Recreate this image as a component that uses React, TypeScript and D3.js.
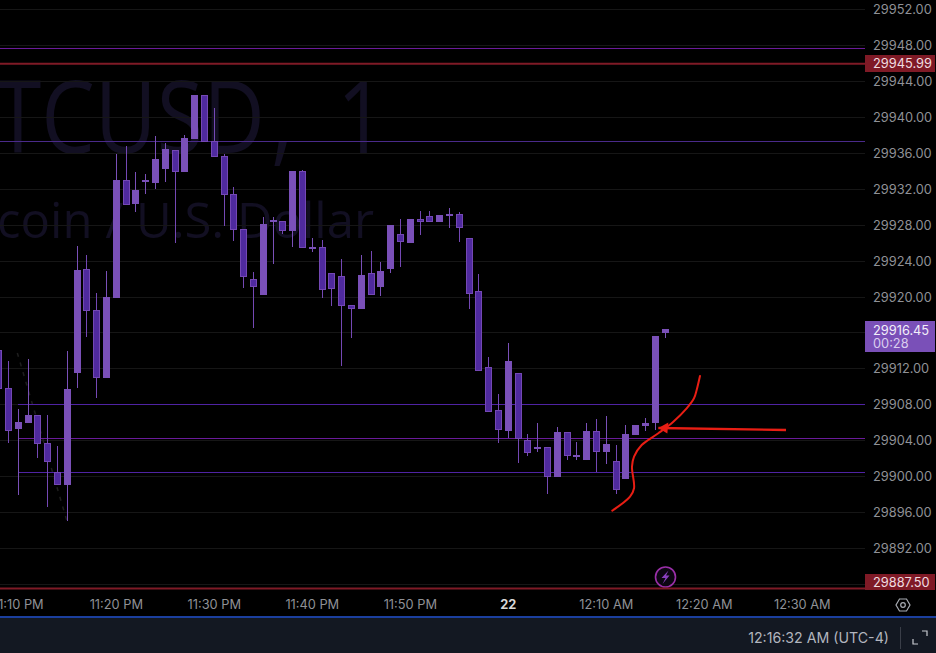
import React from "react";
import * as d3 from "d3";

const WIDTH = 936;
const HEIGHT = 653;

// minutes relative to 12:00 AM
const firstMinute = -52;
const opens = [29914.09,29909.82,29905.32,29905.99,29906.81,29903.69,29900.46,29899.05,29911.56,29923.09,29918.52,29911.00,29919.92,29933.04,29930.37,29932.82,29932.71,29934.27,29936.39,29933.94,29937.62,29942.52,29937.39,29935.72,29931.48,29927.58,29922.01,29920.22,29928.36,29928.47,29927.36,29934.05,29925.46,29925.57,29922.68,29922.34,29919.11,29918.66,29922.68,29921.12,29923.12,29927.02,29926.02,29928.70,29929.03,29928.36,29929.03,29929.25,29926.58,29920.67,29912.20,29907.41,29905.06,29911.53,29904.06,29903.06,29903.28,29899.94,29904.95,29902.28,29901.83,29905.06,29902.72,29901.72,29899.72,29904.62,29905.62,29905.96,29915.99];
const highs = [29914.09,29912.87,29907.51,29913.09,29906.81,29906.85,29903.39,29913.98,29925.69,29924.68,29920.45,29922.90,29935.94,29936.83,29933.94,29933.71,29937.95,29937.17,29936.39,29938.06,29942.52,29942.52,29941.07,29935.94,29932.26,29927.58,29922.79,29928.92,29928.92,29928.47,29934.05,29934.16,29926.58,29926.35,29922.68,29924.24,29919.11,29924.68,29925.13,29923.90,29928.03,29928.70,29928.70,29929.59,29929.59,29929.14,29929.92,29929.47,29926.58,29922.57,29913.31,29909.19,29914.87,29911.53,29904.73,29905.96,29903.28,29905.51,29904.95,29903.84,29905.96,29906.40,29906.74,29903.51,29905.74,29905.74,29906.52,29915.66,29916.44];
const lows = [29909.75,29903.76,29897.93,29905.99,29902.05,29896.63,29899.08,29895.03,29909.89,29915.58,29908.78,29911.00,29919.92,29930.29,29929.47,29931.48,29932.04,29932.82,29926.02,29933.94,29937.62,29937.31,29935.61,29927.92,29926.25,29921.01,29916.55,29920.22,29923.68,29927.02,29925.57,29925.46,29925.02,29919.89,29919.00,29912.31,29915.43,29918.66,29920.22,29920.11,29922.68,29923.35,29926.02,29926.91,29928.36,29928.36,29927.69,29926.13,29918.66,29911.75,29907.18,29903.73,29904.28,29901.50,29902.28,29902.72,29898.04,29899.94,29901.83,29901.83,29901.83,29900.50,29901.39,29898.04,29899.72,29904.62,29905.06,29905.18,29915.43];
const closes = [29909.75,29905.10,29906.03,29906.81,29903.65,29901.64,29899.08,29909.75,29923.01,29918.47,29910.94,29920.00,29933.04,29930.29,29931.93,29933.04,29935.38,29936.50,29933.94,29937.72,29942.52,29937.31,29935.61,29931.37,29927.47,29922.23,29921.12,29928.14,29928.59,29927.36,29934.05,29925.46,29925.57,29920.78,29920.89,29919.00,29918.66,29922.45,29920.22,29922.90,29928.03,29926.13,29928.70,29928.36,29928.36,29929.14,29929.25,29927.69,29920.33,29911.75,29907.18,29905.18,29912.87,29904.17,29902.61,29903.28,29899.94,29904.95,29902.28,29902.39,29905.06,29902.72,29903.62,29898.49,29904.73,29905.74,29905.96,29915.66,29916.44];

const gridPrices = [29952,29948,29944,29940,29936,29932,29928,29924,29920,29916,29912,29908,29904,29900,29896,29892,29888];
const labelledPrices = [29952,29948,29944,29940,29936,29932,29928,29924,29920,29912,29908,29904,29900,29896,29892];
const timeMinutes = [-50,-40,-30,-20,-10,0,10,20,30];
const timeLabels = ["11:10 PM","11:20 PM","11:30 PM","11:40 PM","11:50 PM","22","12:10 AM","12:20 AM","12:30 AM"];

const level1 = 29947.7;
const level2 = 29937.35;
const lowerLevels = [29908.05, 29904.2, 29900.45];
const lowerStart = -50;
const askPrice = 29945.99;
const bidPrice = 29887.5;
const lastPrice = 29916.45;

const curveMinutes = [19.56,19.22,18.95,18.2,16.84,15.31,13.61,12.83,12.62,12.83,12.42,10.61];
const curvePrices = [29911.19,29909.63,29908.71,29907.59,29906.10,29904.81,29903.50,29902.20,29901.08,29898.68,29897.74,29896.18];
const arrowMinutes = [28.34,15.31];
const arrowPrices = [29905.18,29905.39];
const dashMinutes = [-50.1,-45];
const dashPrices = [29913.76,29894.9];

const LIGHT = "#7a50b8";
const DARK = "#4f2a9e";
const EDGE = "#7448b4";
const SANS = "Inter, 'Noto Sans', sans-serif";
const RED = "#e81e14";

const y = d3.scaleLinear().domain([29944, 29896]).range([81.7, 512.3]);
const x = d3.scaleLinear().domain([0, 10]).range([508.3, 606.3]);

export default function App() {
  const line = d3.line<[number, number]>().x(d => x(d[0])).y(d => y(d[1]));
  const curve = d3.line<[number, number]>().x(d => x(d[0])).y(d => y(d[1])).curve(d3.curveCatmullRom.alpha(0.5));
  const curvePts = curveMinutes.map((m, i) => [m, curvePrices[i]] as [number, number]);
  const arrowPts = arrowMinutes.map((m, i) => [m, arrowPrices[i]] as [number, number]);
  const dashPts = dashMinutes.map((m, i) => [m, dashPrices[i]] as [number, number]);
  const tipX = x(arrowMinutes[1]);
  const tipY = y(arrowPrices[1]);
  const bar = 616;
  const scaleX = 865;
  return (
    <svg width={WIDTH} height={HEIGHT} style={{ position: "absolute", left: 0, top: 0, background: "#000", display: "block" }}>
      <rect width={WIDTH} height={HEIGHT} fill="#000" />
      <g transform="translate(-60.5,153) scale(0.85,1)">
        <text x={0} y={0} fontFamily="'Open Sans'" fontSize={100} fill="#120f22">BTCUSD<tspan dx={7}>,</tspan> <tspan dx={26}>1</tspan></text>
      </g>
      <text x={374} y={238} textAnchor="end" fontFamily="'Open Sans'" fontSize={49} fill="#120f22">Bitcoin / U.S. Dollar</text>
      {gridPrices.map(p => (
        <line key={p} x1={0} x2={scaleX} y1={Math.floor(y(p)) + 0.5} y2={Math.floor(y(p)) + 0.5} stroke="#161616" />
      ))}
      <path d={line(dashPts)!} stroke="#1e1e1e" strokeWidth={1.5} strokeDasharray="4 6" fill="none" />
      <line x1={0} x2={scaleX} y1={Math.floor(y(level1)) + 0.5} y2={Math.floor(y(level1)) + 0.5} stroke="#6a1b9a" />
      <line x1={0} x2={scaleX} y1={Math.floor(y(level2)) + 0.5} y2={Math.floor(y(level2)) + 0.5} stroke="#4a2a8a" />
      {lowerLevels.map((p, i) => (
        <line key={p} x1={Math.floor(x(lowerStart))} x2={scaleX} y1={Math.floor(y(p)) + 0.5} y2={Math.floor(y(p)) + 0.5} stroke={i === 1 ? "#6a1b9a" : "#4f23a3"} />
      ))}
      {opens.map((o, i) => {
        const c = closes[i];
        const up = c >= o;
        const cx = Math.floor(x(firstMinute + i));
        const top = Math.round(y(Math.max(o, c)));
        const bot = Math.round(y(Math.min(o, c)));
        const h = Math.max(bot - top, 2);
        return (
          <g key={i} shapeRendering="crispEdges">
            <rect x={cx} width={1} y={Math.round(y(highs[i]))} height={Math.max(Math.round(y(lows[i])) - Math.round(y(highs[i])), 1)} fill={up ? LIGHT : EDGE} />
            {up ? (
              <rect x={cx - 3} width={7} y={top} height={h} fill={LIGHT} />
            ) : (
              <rect x={cx - 2.5} width={6} y={top + 0.5} height={h - 1} fill={DARK} stroke={EDGE} strokeWidth={1} />
            )}
          </g>
        );
      })}
      <path d={curve(curvePts)!} fill="none" stroke={RED} strokeWidth={2} strokeLinecap="round" />
      <path d={line(arrowPts)!} fill="none" stroke={RED} strokeWidth={2.4} />
      <path d={`M${tipX},${tipY}L${tipX + 10},${tipY - 5.5}L${tipX + 9},${tipY + 5.5}Z`} fill={RED} />
      {/* lightning marker */}
      <circle cx={665.5} cy={577} r={10} fill="#0c0612" stroke="#9a2fa8" strokeWidth={1.6} />
      <path d="M668.5,570.5 L661.5,578 L665.5,578 L662.5,584 L669.5,575.5 L666,575.5 Z" fill="#8a3fc0" />
      <line x1={0} x2={scaleX} y1={y(askPrice)} y2={y(askPrice)} stroke="#7f1a26" strokeWidth={2} />
      <line x1={0} x2={scaleX} y1={y(bidPrice)} y2={y(bidPrice)} stroke="#7f1a26" strokeWidth={2} />
      <g fontFamily={SANS} fontSize={12.8}>
        {labelledPrices.map(p => (
          <text key={p} x={873} y={y(p) + 4.5} fill="#8f9196">{d3.format(".2f")(p)}</text>
        ))}
        <rect x={scaleX} y={55} width={70} height={17} fill="#7f1a26" />
        <text x={873} y={68} fill="#f0dde0">{d3.format(".2f")(askPrice)}</text>
        <rect x={scaleX} y={574} width={70} height={16} fill="#7f1a26" />
        <text x={873} y={587} fill="#f0dde0">{d3.format(".2f")(bidPrice)}</text>
        <rect x={scaleX} y={321} width={70} height={31} fill={LIGHT} />
        <text x={873} y={334.5} fill="#f2eef9">{d3.format(".2f")(lastPrice)}</text>
        <text x={873} y={347.5} fill="#d9cdee">00:28</text>
        {timeMinutes.map((m, i) => (
          <text key={m} x={x(m)} y={609} textAnchor="middle" fill={timeLabels[i] === "22" ? "#d8d8d8" : "#8f9196"} fontWeight={timeLabels[i] === "22" ? 700 : 400}>{timeLabels[i]}</text>
        ))}
      </g>
      {/* settings hexagon */}
      <path d="M899.5,599 L906.5,599 L910,605 L906.5,611 L899.5,611 L896,605 Z" fill="none" stroke="#a8abb2" strokeWidth={1.2} />
      <circle cx={903} cy={605} r={2.3} fill="none" stroke="#a8abb2" strokeWidth={1.2} />
      {/* status bar */}
      <rect x={0} y={bar} width={WIDTH} height={2} fill="#1b3f9e" />
      <rect x={0} y={bar + 2} width={WIDTH} height={HEIGHT - bar - 2} fill="#131822" />
      <text x={889} y={643} textAnchor="end" fontFamily={SANS} fontSize={14.2} fill="#b2b5be">12:16:32 AM (UTC-4)</text>
      <rect x={900} y={627} width={1} height={22} fill="#3a3e48" />
      <path d="M913,639 V644 H918 M922,631 H927 V636" fill="none" stroke="#c8cad0" strokeWidth={1.2} />
    </svg>
  );
}
